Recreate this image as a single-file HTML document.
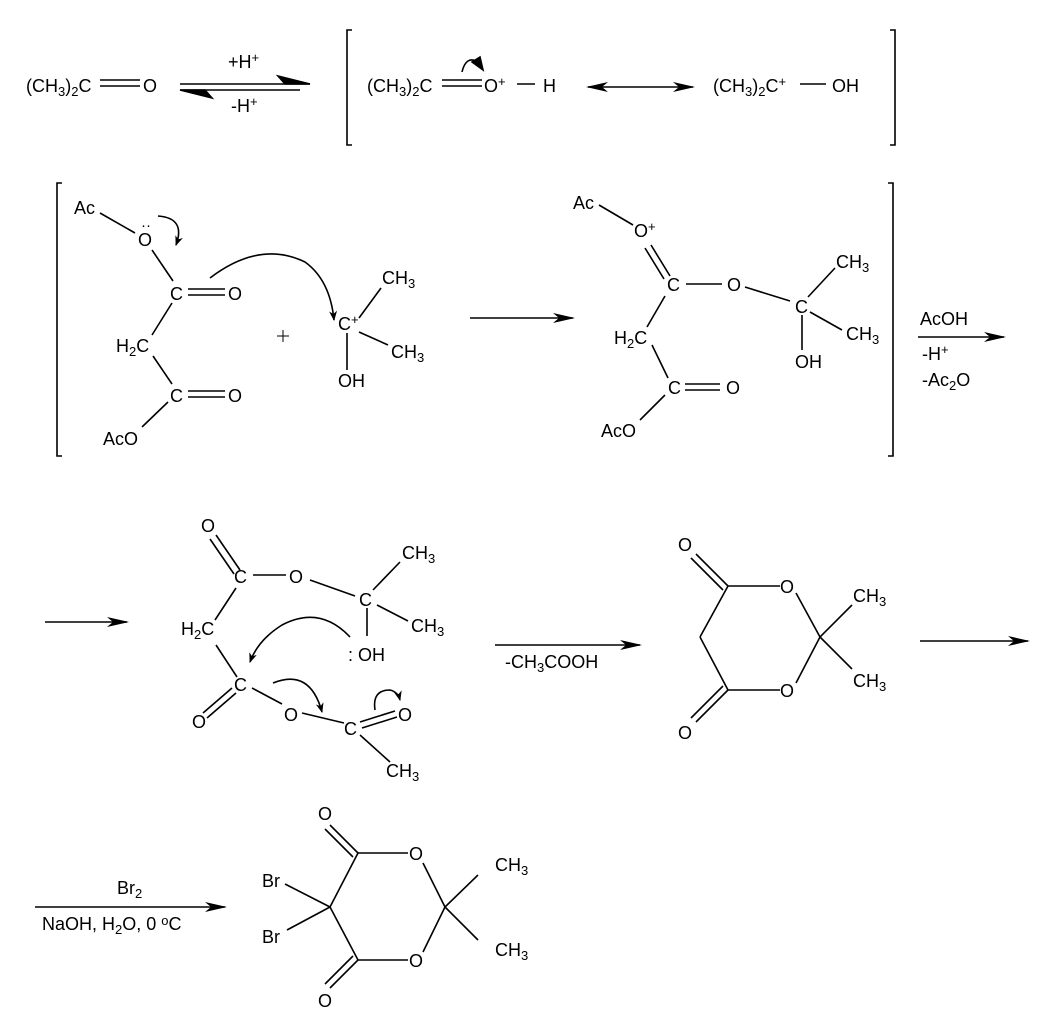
<!DOCTYPE html>
<html><head><meta charset="utf-8"><style>
html,body{margin:0;padding:0;background:#fff}
svg{display:block}
text{font-family:"Liberation Sans",Arial,sans-serif;font-size:18px;fill:#000}
.s{font-size:13px}
</style></head><body>
<svg width="1040" height="1020" viewBox="0 0 1040 1020" xmlns="http://www.w3.org/2000/svg">
<defs>
<marker id="ah" markerWidth="10" markerHeight="8" refX="9" refY="4" orient="auto" markerUnits="userSpaceOnUse"><path d="M0,0 L10,4 L0,8 L3,4 z" fill="#000"/></marker>
<marker id="ahs" markerWidth="22" markerHeight="10" refX="20" refY="5" orient="auto" markerUnits="userSpaceOnUse"><path d="M0,0 L22,5 L0,10 L6,5 z" fill="#000"/></marker>
<marker id="ahb" markerWidth="22" markerHeight="10" refX="2" refY="5" orient="auto" markerUnits="userSpaceOnUse"><path d="M22,0 L0,5 L22,10 L16,5 z" fill="#000"/></marker>
</defs>
<g stroke="#000" stroke-width="1.6" fill="none">
<!-- row 1 -->
<line x1="100" y1="80" x2="140" y2="80"/><line x1="100" y1="86" x2="140" y2="86"/>
<line x1="180" y1="84" x2="310" y2="84"/><path d="M278,76 L310,84 L285,84 z" fill="#000"/>
<line x1="180" y1="90" x2="300" y2="90"/><path d="M212,98 L180,90 L205,90 z" fill="#000"/>
<path d="M352,30 H347 V145 H352"/><path d="M890,30 H895 V145 H890"/>
<line x1="442" y1="80" x2="482" y2="80"/><line x1="442" y1="86" x2="482" y2="86"/>
<line x1="517" y1="84" x2="535" y2="84"/>
<path d="M462,72 Q466,55 478,62" /><path d="M472,62 L483,70 L480,57 z" fill="#000"/>
<line x1="588" y1="87" x2="693" y2="87" marker-end="url(#ahs)" marker-start="url(#ahb)"/>
<line x1="800" y1="84" x2="826" y2="84"/>
<!-- row 2 left -->
<path d="M62,183 H57 V456 H62"/>
<line x1="100" y1="213" x2="135" y2="233"/>
<line x1="152" y1="250" x2="173" y2="281"/>
<line x1="188" y1="289" x2="225" y2="289"/><line x1="188" y1="295" x2="225" y2="295"/>
<line x1="172" y1="303" x2="152" y2="335"/>
<line x1="153" y1="356" x2="172" y2="384"/>
<line x1="188" y1="391" x2="225" y2="391"/><line x1="188" y1="397" x2="225" y2="397"/>
<line x1="168" y1="402" x2="142" y2="427"/>
<path d="M158,216 Q186,218 176,245" marker-end="url(#ah)"/>
<path d="M210,278 Q260,240 305,262 Q330,280 334,320" marker-end="url(#ah)"/>
<line x1="359" y1="318" x2="381" y2="288"/>
<line x1="359" y1="332" x2="388" y2="345"/>
<line x1="347" y1="333" x2="347" y2="370"/>
<line x1="283" y1="330" x2="283" y2="342" stroke-width="1"/><line x1="277" y1="336" x2="289" y2="336" stroke-width="1"/>
<line x1="470" y1="318" x2="573" y2="318" marker-end="url(#ahs)"/>
<!-- row 2 right -->
<line x1="599" y1="205" x2="633" y2="225"/>
<line x1="651" y1="245" x2="670" y2="276"/><line x1="645" y1="248" x2="664" y2="279"/>
<line x1="686" y1="284" x2="722" y2="284"/>
<line x1="745" y1="287" x2="790" y2="301"/>
<line x1="808" y1="297" x2="835" y2="268"/>
<line x1="810" y1="312" x2="842" y2="330"/>
<line x1="802" y1="315" x2="802" y2="350"/>
<line x1="665" y1="296" x2="647" y2="327"/>
<line x1="652" y1="345" x2="668" y2="378"/>
<line x1="685" y1="384" x2="720" y2="384"/><line x1="685" y1="390" x2="720" y2="390"/>
<line x1="665" y1="395" x2="640" y2="420"/>
<path d="M888,183 H893 V456 H888"/>
<line x1="918" y1="337" x2="1004" y2="337" marker-end="url(#ahs)"/>
<!-- row 3 -->
<line x1="45" y1="622" x2="127" y2="622" marker-end="url(#ahs)"/>
<line x1="216" y1="535" x2="240" y2="570"/><line x1="210" y1="539" x2="234" y2="574"/>
<line x1="253" y1="575" x2="286" y2="575"/>
<line x1="310" y1="580" x2="355" y2="596"/>
<line x1="373" y1="590" x2="400" y2="562"/>
<line x1="377" y1="605" x2="408" y2="621"/>
<line x1="367" y1="608" x2="367" y2="636"/>
<line x1="236" y1="588" x2="215" y2="620"/>
<line x1="216" y1="645" x2="237" y2="677"/>
<line x1="232" y1="688" x2="203" y2="713"/><line x1="236" y1="693" x2="207" y2="718"/>
<line x1="252" y1="688" x2="282" y2="704"/>
<line x1="302" y1="713" x2="344" y2="723"/>
<line x1="360" y1="722" x2="395" y2="711"/><line x1="362" y1="728" x2="397" y2="717"/>
<line x1="360" y1="735" x2="390" y2="762"/>
<path d="M350,637 Q320,605 282,625 Q258,640 250,662" marker-end="url(#ah)"/>
<path d="M273,683 Q310,668 322,712" marker-end="url(#ah)"/>
<path d="M375,710 Q372,690 390,690 Q398,692 400,700" marker-end="url(#ah)"/>
<line x1="495" y1="645" x2="640" y2="645" marker-end="url(#ahs)"/>
<!-- meldrum -->
<line x1="728" y1="586" x2="780" y2="586"/>
<line x1="796" y1="593" x2="820" y2="637"/>
<line x1="820" y1="637" x2="796" y2="683"/>
<line x1="780" y1="690" x2="728" y2="690"/>
<line x1="728" y1="690" x2="700" y2="637"/>
<line x1="700" y1="637" x2="728" y2="586"/>
<line x1="728" y1="586" x2="696" y2="554"/><line x1="723" y1="590" x2="691" y2="558"/>
<line x1="728" y1="690" x2="696" y2="722"/><line x1="723" y1="686" x2="691" y2="718"/>
<line x1="820" y1="637" x2="852" y2="605"/>
<line x1="820" y1="637" x2="852" y2="669"/>
<line x1="920" y1="641" x2="1028" y2="641" marker-end="url(#ahs)"/>
<!-- row 4 -->
<line x1="35" y1="907" x2="225" y2="907" marker-end="url(#ahs)"/>
<line x1="358" y1="853" x2="408" y2="853"/>
<line x1="423" y1="863" x2="445" y2="907"/>
<line x1="445" y1="907" x2="423" y2="952"/>
<line x1="408" y1="960" x2="358" y2="960"/>
<line x1="358" y1="960" x2="330" y2="907"/>
<line x1="330" y1="907" x2="358" y2="853"/>
<line x1="358" y1="853" x2="330" y2="825"/><line x1="353" y1="857" x2="325" y2="829"/>
<line x1="358" y1="960" x2="330" y2="988"/><line x1="353" y1="956" x2="325" y2="984"/>
<line x1="445" y1="907" x2="478" y2="875"/>
<line x1="445" y1="907" x2="478" y2="940"/>
<line x1="330" y1="907" x2="285" y2="884"/>
<line x1="330" y1="907" x2="287" y2="930"/>
</g>
<!-- text -->
<text x="26" y="92">(CH<tspan class="s" dy="4">3</tspan><tspan dy="-4">)</tspan><tspan class="s" dy="4">2</tspan><tspan dy="-4">C</tspan></text>
<text x="143" y="92">O</text>
<text x="228" y="68">+H<tspan class="s" dy="-6">+</tspan></text>
<text x="231" y="112">-H<tspan class="s" dy="-6">+</tspan></text>
<text x="367" y="92">(CH<tspan class="s" dy="4">3</tspan><tspan dy="-4">)</tspan><tspan class="s" dy="4">2</tspan><tspan dy="-4">C</tspan></text>
<text x="484" y="92">O<tspan class="s" dy="-6">+</tspan></text>
<text x="543" y="92">H</text>
<text x="713" y="92">(CH<tspan class="s" dy="4">3</tspan><tspan dy="-4">)</tspan><tspan class="s" dy="4">2</tspan><tspan dy="-4">C<tspan class="s" dy="-6">+</tspan></tspan></text>
<text x="832" y="92">OH</text>
<text x="74" y="214">Ac</text>
<text x="138" y="246">O</text><text x="141" y="230" style="font-size:15px">··</text>
<text x="170" y="300">C</text><text x="228" y="300">O</text>
<text x="116" y="352">H<tspan class="s" dy="4">2</tspan><tspan dy="-4">C</tspan></text>
<text x="170" y="402">C</text><text x="228" y="402">O</text>
<text x="103" y="445">AcO</text>
<text x="338" y="330">C<tspan class="s" dy="-6">+</tspan></text>
<text x="382" y="284">CH<tspan class="s" dy="4">3</tspan></text>
<text x="391" y="358">CH<tspan class="s" dy="4">3</tspan></text>
<text x="338" y="387">OH</text>
<text x="573" y="209">Ac</text>
<text x="634" y="237">O<tspan class="s" dy="-6">+</tspan></text>
<text x="667" y="291">C</text><text x="727" y="291">O</text>
<text x="795" y="313">C</text>
<text x="836" y="268">CH<tspan class="s" dy="4">3</tspan></text>
<text x="846" y="340">CH<tspan class="s" dy="4">3</tspan></text>
<text x="795" y="368">OH</text>
<text x="614" y="344">H<tspan class="s" dy="4">2</tspan><tspan dy="-4">C</tspan></text>
<text x="668" y="394">C</text><text x="726" y="394">O</text>
<text x="601" y="437">AcO</text>
<text x="920" y="325">AcOH</text>
<text x="922" y="360">-H<tspan class="s" dy="-6">+</tspan></text>
<text x="922" y="386">-Ac<tspan class="s" dy="4">2</tspan><tspan dy="-4">O</tspan></text>
<text x="201" y="532">O</text>
<text x="234" y="583">C</text><text x="289" y="583">O</text>
<text x="359" y="606">C</text>
<text x="402" y="559">CH<tspan class="s" dy="4">3</tspan></text>
<text x="411" y="632">CH<tspan class="s" dy="4">3</tspan></text>
<text x="181" y="635">H<tspan class="s" dy="4">2</tspan><tspan dy="-4">C</tspan></text>
<text x="348" y="661">: OH</text>
<text x="234" y="691">C</text>
<text x="192" y="728">O</text>
<text x="284" y="721">O</text>
<text x="344" y="735">C</text>
<text x="398" y="721">O</text>
<text x="386" y="777">CH<tspan class="s" dy="4">3</tspan></text>
<text x="505" y="668">-CH<tspan class="s" dy="4">3</tspan><tspan dy="-4">COOH</tspan></text>
<text x="678" y="551">O</text>
<text x="780" y="593">O</text>
<text x="780" y="697">O</text>
<text x="678" y="739">O</text>
<text x="853" y="602">CH<tspan class="s" dy="4">3</tspan></text>
<text x="853" y="687">CH<tspan class="s" dy="4">3</tspan></text>
<text x="117" y="894">Br<tspan class="s" dy="4">2</tspan></text>
<text x="42" y="930">NaOH, H<tspan class="s" dy="4">2</tspan><tspan dy="-4">O, 0 </tspan><tspan class="s" dy="-5">o</tspan><tspan dy="5">C</tspan></text>
<text x="318" y="820">O</text>
<text x="409" y="860">O</text>
<text x="409" y="967">O</text>
<text x="318" y="1007">O</text>
<text x="262" y="887">Br</text>
<text x="262" y="943">Br</text>
<text x="495" y="871">CH<tspan class="s" dy="4">3</tspan></text>
<text x="495" y="956">CH<tspan class="s" dy="4">3</tspan></text>
</svg>
</body></html>
